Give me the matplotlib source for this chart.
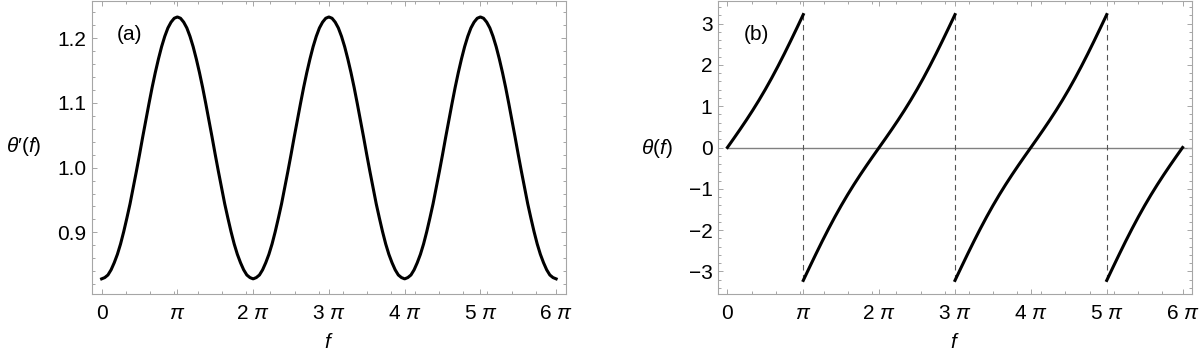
import numpy as np
import matplotlib
matplotlib.use("Agg")
import matplotlib.pyplot as plt
from matplotlib.ticker import FixedLocator

plt.rcParams['font.family'] = ['Liberation Sans', 'DejaVu Sans']
plt.rcParams['mathtext.fontset'] = 'custom'
plt.rcParams['mathtext.rm'] = 'Liberation Sans'
plt.rcParams['mathtext.it'] = 'Liberation Sans:italic'
plt.rcParams['mathtext.bf'] = 'Liberation Sans:bold'

# --- data ---
# theta'(f), sampled every pi/24 over 0..6 pi
f_all = np.linspace(0, 6 * np.pi, 145)
dtheta = [
    0.828, 0.830, 0.834, 0.842, 0.853, 0.866, 0.882, 0.901, 0.922, 0.944, 0.969, 0.994,
    1.020, 1.047, 1.073, 1.099, 1.124, 1.147, 1.168, 1.187, 1.203, 1.216, 1.225, 1.231,
    1.233, 1.231, 1.225, 1.216, 1.203, 1.187, 1.168, 1.147, 1.124, 1.099, 1.073, 1.047,
    1.020, 0.994, 0.969, 0.944, 0.922, 0.901, 0.882, 0.866, 0.853, 0.842, 0.834, 0.830,
    0.828, 0.830, 0.834, 0.842, 0.853, 0.866, 0.882, 0.901, 0.922, 0.944, 0.969, 0.994,
    1.020, 1.047, 1.073, 1.099, 1.124, 1.147, 1.168, 1.187, 1.203, 1.216, 1.225, 1.231,
    1.233, 1.231, 1.225, 1.216, 1.203, 1.187, 1.168, 1.147, 1.124, 1.099, 1.073, 1.047,
    1.020, 0.994, 0.969, 0.944, 0.922, 0.901, 0.882, 0.866, 0.853, 0.842, 0.834, 0.830,
    0.828, 0.830, 0.834, 0.842, 0.853, 0.866, 0.882, 0.901, 0.922, 0.944, 0.969, 0.994,
    1.020, 1.047, 1.073, 1.099, 1.124, 1.147, 1.168, 1.187, 1.203, 1.216, 1.225, 1.231,
    1.233, 1.231, 1.225, 1.216, 1.203, 1.187, 1.168, 1.147, 1.124, 1.099, 1.073, 1.047,
    1.020, 0.994, 0.969, 0.944, 0.922, 0.901, 0.882, 0.866, 0.853, 0.842, 0.834, 0.830,
    0.828,
]

# theta(f), one list per continuous branch, sampled every pi/12
theta_a = [0.000, 0.217, 0.438, 0.665, 0.901, 1.148, 1.408, 1.682, 1.970, 2.270, 2.581, 2.899, 3.221]
theta_b = [-3.221, -2.899, -2.581, -2.270, -1.970, -1.682, -1.408, -1.148, -0.901, -0.665, -0.438, -0.217,
           0.000, 0.217, 0.438, 0.665, 0.901, 1.148, 1.408, 1.682, 1.970, 2.270, 2.581, 2.899, 3.221]
theta_c = [-3.221, -2.899, -2.581, -2.270, -1.970, -1.682, -1.408, -1.148, -0.901, -0.665, -0.438, -0.217,
           0.000, 0.217, 0.438, 0.665, 0.901, 1.148, 1.408, 1.682, 1.970, 2.270, 2.581, 2.899, 3.221]
theta_d = [-3.221, -2.899, -2.581, -2.270, -1.970, -1.682, -1.408, -1.148, -0.901, -0.665, -0.438, -0.217, 0.000]
f_a = np.linspace(0, np.pi, 13)
f_b = np.linspace(np.pi, 3 * np.pi, 25)
f_c = np.linspace(3 * np.pi, 5 * np.pi, 25)
f_d = np.linspace(5 * np.pi, 6 * np.pi, 13)
f_jumps = [np.pi, 3 * np.pi, 5 * np.pi]

x_ticks = [k * np.pi for k in range(7)]
x_labels = ['0', r'$\pi$', r'$2\ \pi$', r'$3\ \pi$', r'$4\ \pi$', r'$5\ \pi$', r'$6\ \pi$']

FRAME = '#a6a6a6'
FS = 15


def style_frame(ax):
    for s in ax.spines.values():
        s.set_color(FRAME)
        s.set_linewidth(0.8)
    ax.tick_params(which='both', direction='in', top=True, right=True,
                   color=FRAME, width=0.7, labelsize=FS)
    ax.tick_params(which='major', length=3.6)
    ax.tick_params(which='minor', length=2)
    ax.tick_params(axis='x', pad=7)
    ax.tick_params(axis='y', pad=4)
    ax.set_xticks(x_ticks)
    ax.set_xticklabels(x_labels)
    ax.xaxis.set_minor_locator(FixedLocator(range(1, 19)))


fig = plt.figure(figsize=(12, 3.6), dpi=100)
ax1 = fig.add_axes([92 / 1200, 1 - 294 / 360, 474 / 1200, 293 / 360])
ax2 = fig.add_axes([718 / 1200, 1 - 294 / 360, 474 / 1200, 293 / 360])

# (a) theta'(f)
ax1.plot(f_all, dtheta, color='black', lw=2.2, solid_joinstyle='round')
ax1.set_xlim(-0.127 * np.pi, 6.13 * np.pi)
ax1.set_ylim(0.8046, 1.2577)
style_frame(ax1)
ax1.set_yticks([0.9, 1.0, 1.1, 1.2])
ax1.set_yticklabels(['0.9', '1.0', '1.1', '1.2'])
ax1.yaxis.set_minor_locator(FixedLocator(np.arange(0.80, 1.27, 0.02)))

# (b) theta(f)
xlo, xhi = -0.124 * np.pi, 6.124 * np.pi
ax2.axhline(0, xmin=(0 - xlo) / (xhi - xlo), xmax=1, color='#808080', lw=1.0, zorder=1)
ax2.vlines(f_jumps, theta_b[0], theta_a[-1], colors='#555555', lw=0.8,
           linestyles=(0, (5, 4)), zorder=1)
for fx, th in [(f_a, theta_a), (f_b, theta_b), (f_c, theta_c), (f_d, theta_d)]:
    ax2.plot(fx, th, color='black', lw=2.2, zorder=3, solid_joinstyle='round')
ax2.set_xlim(xlo, xhi)
ax2.set_ylim(-3.55, 3.55)
style_frame(ax2)
ax2.set_yticks([-3, -2, -1, 0, 1, 2, 3])
ax2.set_yticklabels(['\u22123', '\u22122', '\u22121', '0', '1', '2', '3'])
ax2.yaxis.set_minor_locator(FixedLocator(np.arange(-3.4, 3.5, 0.2)))

# labels
fig.text(24 / 1200, 1 - 147 / 360, r"$\theta\prime(f)$", fontsize=FS, ha='center', va='center')
fig.text(657 / 1200, 1 - 148 / 360, r"$\theta(f)$", fontsize=FS, ha='center', va='center')
fig.text(329 / 1200, 1 - 343 / 360, r"$f$", fontsize=FS, ha='center', va='center')
fig.text(955 / 1200, 1 - 343 / 360, r"$f$", fontsize=FS, ha='center', va='center')
fig.text(129 / 1200, 1 - 34 / 360, "(a)", fontsize=FS, ha='center', va='center')
fig.text(756 / 1200, 1 - 34 / 360, "(b)", fontsize=FS, ha='center', va='center')

fig.savefig('out.png', dpi=100)
